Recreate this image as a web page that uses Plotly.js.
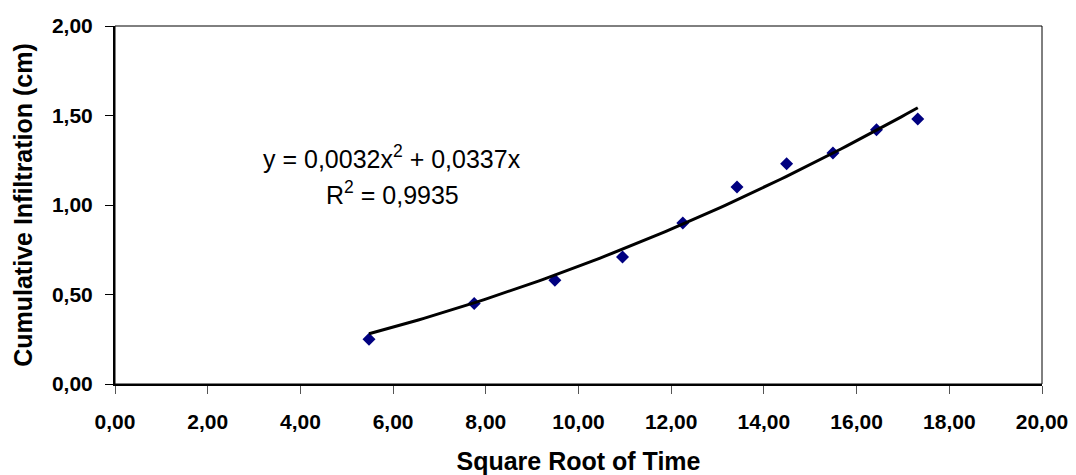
<!DOCTYPE html>
<html>
<head>
<meta charset="utf-8">
<script src="https://cdn.plot.ly/plotly-3.0.1.min.js"></script>
<style>html,body{margin:0;padding:0;background:#fff;}#chart{width:1076px;height:475px;}</style>
</head>
<body>
<div id="chart"></div>
<script>
// Square root of time (x) and cumulative infiltration in cm (y)
const sqrtTime = [5.48, 7.75, 9.49, 10.95, 12.25, 13.42, 14.49, 15.49, 16.43, 17.32];
const infiltration = [0.25, 0.45, 0.58, 0.71, 0.90, 1.10, 1.23, 1.29, 1.42, 1.48];
// Polynomial trendline coefficients shown on the chart
const coefA = 0.0032;
const coefB = 0.0337;
const equationText = "y = 0,0032x<sup>2</sup> + 0,0337x";
const r2Text = "R<sup>2</sup> = 0,9935";
const xTitle = "Square Root of Time";
const yTitle = "Cumulative Infiltration (cm)";

// trendline drawn across the data range
const xMin = Math.min(...sqrtTime), xMax = Math.max(...sqrtTime);
const trendX = [], trendY = [];
for (let i = 0; i <= 100; i++) {
  const x = xMin + (xMax - xMin) * i / 100;
  trendX.push(x);
  trendY.push(coefA * x * x + coefB * x);
}

const font = "Liberation Sans, Arial, sans-serif";

const data = [
  {
    x: sqrtTime, y: infiltration, type: "scatter", mode: "markers",
    marker: {symbol: "diamond", size: 10, color: "#000080", line: {width: 0}},
    showlegend: false, hoverinfo: "x+y"
  },
  {
    x: trendX, y: trendY, type: "scatter", mode: "lines",
    line: {color: "#000000", width: 3},
    showlegend: false, hoverinfo: "skip"
  }
];

const layout = {
  width: 1076, height: 475,
  margin: {l: 115, r: 34, t: 26, b: 91, pad: 0},
  paper_bgcolor: "#ffffff", plot_bgcolor: "#ffffff",
  separators: ",.",
  font: {family: font, color: "#000"},
  xaxis: {
    range: [0, 20], dtick: 2, tick0: 0, tickformat: ".2f",
    showgrid: false, zeroline: false,
    showline: true, linecolor: "#000", linewidth: 2,
    ticks: "outside", ticklen: 8, tickcolor: "#555", tickwidth: 1,
    tickfont: {family: font, size: 21, color: "#000", weight: "bold"},
    ticklabelstandoff: 10,
    title: {text: xTitle, font: {family: font, size: 25, color: "#000", weight: "bold"}, standoff: 22}
  },
  yaxis: {
    range: [0, 2], dtick: 0.5, tick0: 0, tickformat: ".2f",
    showgrid: false, zeroline: false,
    showline: true, linecolor: "#000", linewidth: 2,
    ticks: "outside", ticklen: 8, tickcolor: "#000", tickwidth: 1,
    tickfont: {family: font, size: 21, color: "#000", weight: "bold"},
    ticklabelstandoff: 8,
    title: {text: yTitle, font: {family: font, size: 25, color: "#000", weight: "bold"}, standoff: 12}
  },
  shapes: [
    {type: "rect", xref: "paper", yref: "paper", x0: 0, y0: 0, x1: 1, y1: 1,
     line: {color: "#000", width: 1}, layer: "below"}
  ],
  annotations: [
    {x: 5.98, y: 1.268, xref: "x", yref: "y", text: equationText, showarrow: false,
     xanchor: "center", yanchor: "middle", font: {family: font, size: 25, color: "#000"}},
    {x: 5.98, y: 1.067, xref: "x", yref: "y", text: r2Text, showarrow: false,
     xanchor: "center", yanchor: "middle", font: {family: font, size: 25, color: "#000"}}
  ]
};

Plotly.newPlot("chart", data, layout, {displayModeBar: false, staticPlot: true});
</script>
</body>
</html>
